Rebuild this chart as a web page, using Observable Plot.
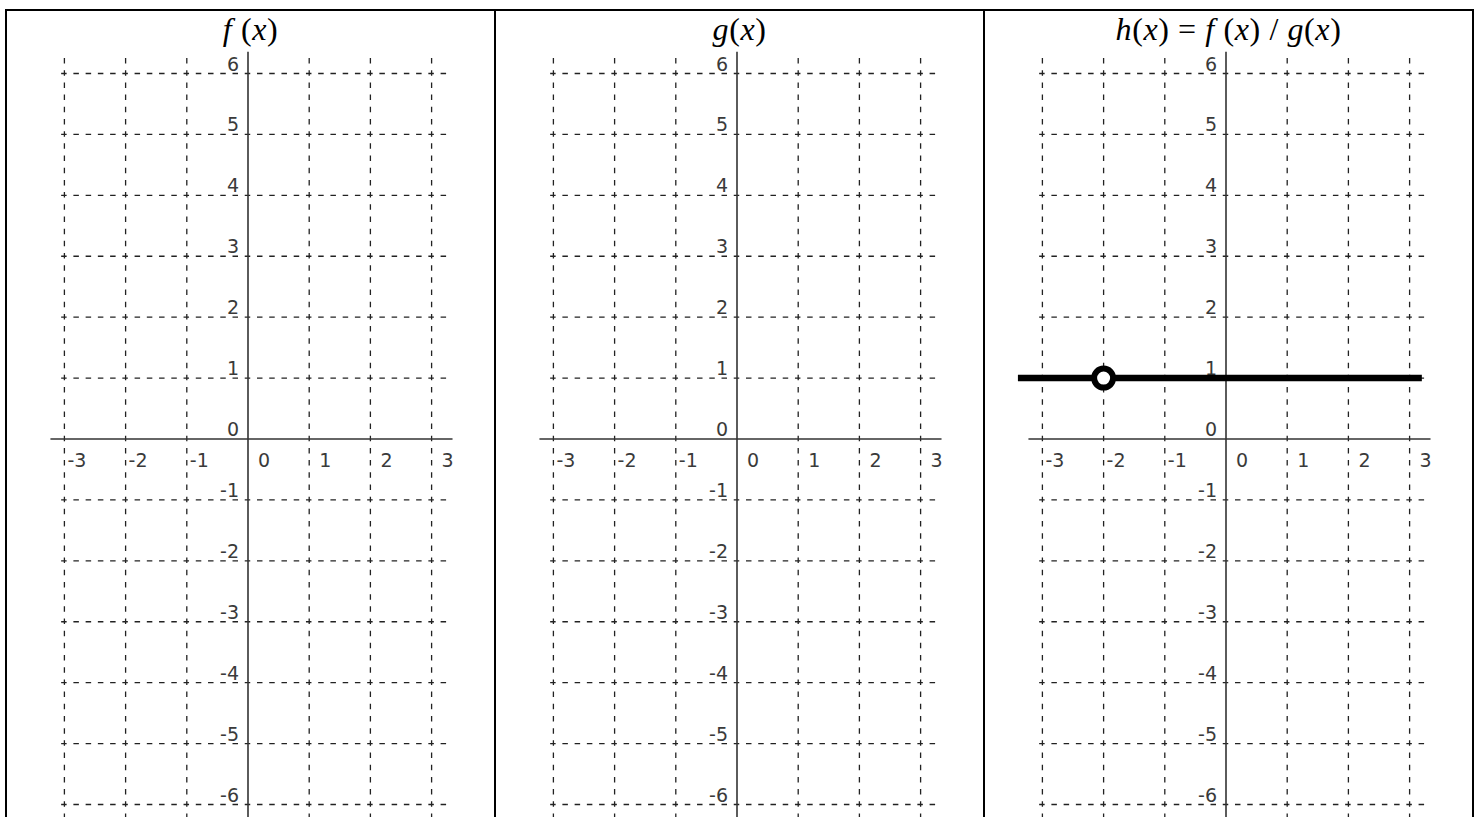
<!DOCTYPE html>
<html>
<head>
<meta charset="utf-8">
<script src="https://cdn.jsdelivr.net/npm/d3@7"></script>
<script src="https://cdn.jsdelivr.net/npm/@observablehq/plot@0.6"></script>
<style>
  html, body { margin: 0; padding: 0; background: #fff; }
  body { position: relative; width: 1479px; height: 817px; overflow: hidden; }
  .border { position: absolute; background: #000; }
  .cell { position: absolute; top: 0; height: 817px; }
  .title {
    position: absolute; left: 0; right: 0; top: 11px; text-align: center;
    font-family: "Liberation Serif", "Times New Roman", serif; font-size: 32px;
    letter-spacing: 0.6px; line-height: 36px; color: #000; white-space: pre;
  }
  .cell svg { position: absolute; left: 0; top: 50px; overflow: visible; }
</style>
</head>
<body>
<script>
// Axis ticks shared by the three coordinate grids
const xTicks = [-3, -2, -1, 0, 1, 2, 3];
const yTicks = [-6, -5, -4, -3, -2, -1, 0, 1, 2, 3, 4, 5, 6];

// Panel headings (italic variable names, upright brackets)
const panelTitles = [
  "<i>f</i> (<i>x</i>)",
  "<i>g</i>(<i>x</i>)",
  "<i>h</i>(<i>x</i>) = <i>f</i> (<i>x</i>) / <i>g</i>(<i>x</i>)"
];

// h(x) = 1 with a removable discontinuity at x = -2
const hLineX = [-3.4, 3.2];
const hLineY = [1, 1];
const holeX = [-2];
const holeY = [1];

// Layout of the three-cell frame
const cellW = 489, frameLeft = 6, frameTop = 10, svgTop = 50;
const originX = 241.5, unitX = 61.2;       // pixel position of x = 0 and px per unit
const yTopPx = 23, yBotPx = 754;           // pixel rows of y = 6 and y = -6
const unitY = (yBotPx - yTopPx) / 12;

// Grid extents beyond the labelled ticks
const gridXMin = -3.15, gridXMax = 3.35, axisXMin = -3.22;
const gridYTop = 6.26, axisYTop = 6.35, lineYBottom = -7;

// Dash pattern: five dashes per grid cell, centred on the crossings
const dash = 5.5;
const perX = unitX / 5, perY = unitY / 5;
const mod = (a, p) => ((a % p) + p) % p;
const offX = mod(-((-3 - gridXMin) * unitX - dash / 2), perX);
const offY = mod(-((gridYTop - 6) * unitY - dash / 2), perY);

// Outer frame and cell dividers
function bar(l, t, w, h) {
  const d = document.createElement("div");
  d.className = "border";
  Object.assign(d.style, {left: l + "px", top: t + "px", width: w + "px", height: h + "px"});
  document.body.appendChild(d);
}
bar(frameLeft - 1, frameTop - 1, cellW * 3 + 2, 2);
for (let i = 0; i <= 3; i++) bar(frameLeft - 1 + cellW * i, frameTop - 1, 2, 817);

const labelStyle = {fill: "#3a3a3a", fontSize: 19, lineAnchor: "bottom"};

function panel(i) {
  const marks = [
    // dashed grid
    Plot.ruleY(yTicks.filter(d => d !== 0), {
      y: d => d, x1: () => gridXMin, x2: () => gridXMax,
      stroke: "#222", strokeWidth: 1.3, strokeDasharray: `${dash},${perX - dash}`, strokeDashoffset: offX
    }),
    Plot.ruleX(xTicks.filter(d => d !== 0), {
      x: d => d, y1: () => gridYTop, y2: () => lineYBottom,
      stroke: "#222", strokeWidth: 1.3, strokeDasharray: `${dash},${perY - dash}`, strokeDashoffset: offY
    }),
    // solid axes
    Plot.ruleY([0], {y: d => d, x1: () => axisXMin, x2: () => gridXMax, stroke: "#333", strokeWidth: 1.6}),
    Plot.ruleX([0], {x: d => d, y1: () => axisYTop, y2: () => lineYBottom, stroke: "#333", strokeWidth: 1.6}),
    // y tick labels, left of the vertical axis
    Plot.text(yTicks, {
      x: () => 0, y: d => d, text: d => String(d),
      textAnchor: "end", dx: -9, dy: -3, ...labelStyle
    }),
    // x tick labels, below the horizontal axis
    Plot.text(xTicks.filter(d => d < 0), {
      x: d => d, y: () => 0, text: d => String(d),
      textAnchor: "start", dx: 3, dy: 28, ...labelStyle
    }),
    Plot.text(xTicks.filter(d => d >= 0), {
      x: d => d, y: () => 0, text: d => String(d),
      textAnchor: "start", dx: 10, dy: 28, ...labelStyle
    })
  ];
  if (i === 2) {
    marks.push(
      Plot.line(hLineX.map((x, k) => ({x, y: hLineY[k]})), {x: "x", y: "y", stroke: "#000", strokeWidth: 6.5, strokeLinecap: "butt"}),
      Plot.dot(holeX.map((x, k) => ({x, y: holeY[k]})), {x: "x", y: "y", r: 9.5, fill: "#fff", stroke: "#000", strokeWidth: 6})
    );
  }
  return Plot.plot({
    width: cellW,
    height: 817 - svgTop,
    x: {domain: [-3, 3], range: [originX - 3 * unitX, originX + 3 * unitX], axis: null},
    y: {domain: [-6, 6], range: [yBotPx, yTopPx], axis: null},
    style: {fontFamily: "'DejaVu Sans', sans-serif", fontSize: "19px", background: "transparent", overflow: "visible"},
    marks
  });
}

panelTitles.forEach((t, i) => {
  const cell = document.createElement("div");
  cell.className = "cell";
  cell.style.left = (frameLeft + cellW * i) + "px";
  cell.style.width = cellW + "px";
  const title = document.createElement("div");
  title.className = "title";
  title.innerHTML = t;
  cell.appendChild(title);
  cell.appendChild(panel(i));
  document.body.appendChild(cell);
});
</script>
</body>
</html>
